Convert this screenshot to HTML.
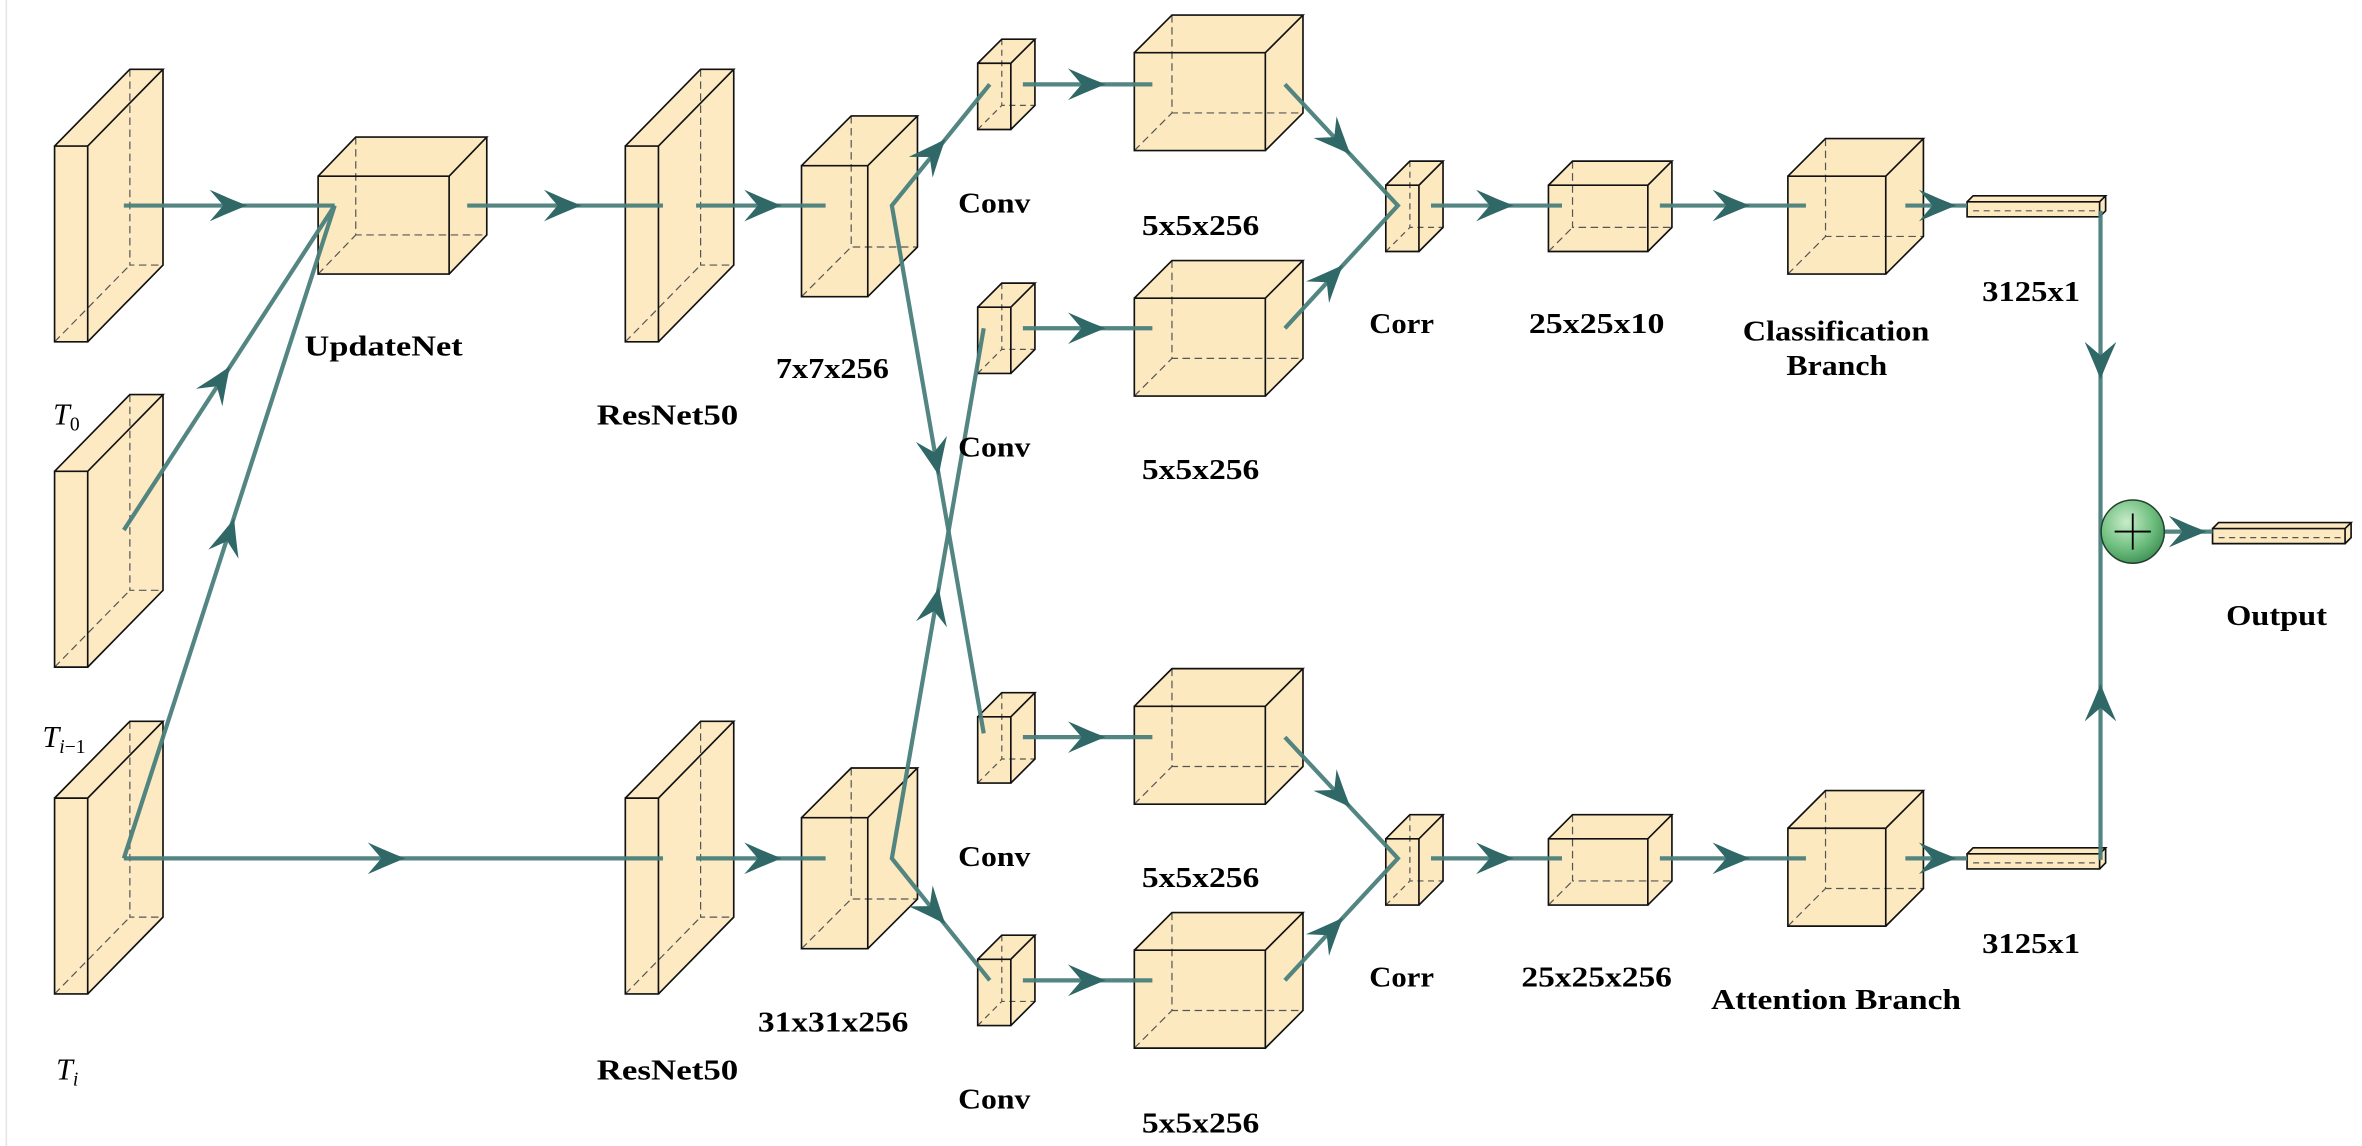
<!DOCTYPE html>
<html><head><meta charset="utf-8"><style>
html,body{margin:0;padding:0;background:#fff;}
svg{display:block;}
text{font-family:"Liberation Serif",serif;font-weight:bold;font-size:19px;fill:#000;}
.m{font-weight:normal;font-style:italic;font-size:20px;}
</style></head><body>
<svg width="2362" height="1146" viewBox="0 0 1568 761" xmlns="http://www.w3.org/2000/svg">
<defs>
<radialGradient id="gg" cx="40%" cy="35%" r="70%"><stop offset="0" stop-color="#c9ecc9"/><stop offset="0.6" stop-color="#6fbf80"/><stop offset="1" stop-color="#3e8f55"/></radialGradient>
<marker id="ah" markerUnits="userSpaceOnUse" markerWidth="34" markerHeight="26" refX="0" refY="0" viewBox="-30 -13 34 26" orient="auto" overflow="visible">
<path d="M1,0 C-7,-3 -16,-7 -24,-10.5 L-15,0 L-24,10.5 C-16,7 -7,3 1,0Z" fill="#2f6866"/>
</marker>
<g id="slab"><polygon points="0,0 50,-51 72,-51 72,79 22,130 0,130" fill="#fde9bf" fill-opacity="0.95"/><path d="M50,-51V79H72M0,130L50,79" fill="none" stroke="#555" stroke-width="0.8" stroke-dasharray="5,3"/><path d="M0,0H22V130H0ZM0,0L50,-51H72L22,0M72,-51V79L22,130" fill="none" stroke="#111" stroke-width="1.1"/></g>
<g id="upd"><polygon points="0,0 25,-26 112,-26 112,39 87,65 0,65" fill="#fde9bf"/><path d="M25,-26V39H112M0,65L25,39" fill="none" stroke="#555" stroke-width="0.8" stroke-dasharray="5,3"/><path d="M0,0H87V65H0ZM0,0L25,-26H112L87,0M112,-26V39L87,65" fill="none" stroke="#111" stroke-width="1.1"/></g>
<g id="c7"><polygon points="0,0 33,-33 77,-33 77,54 44,87 0,87" fill="#fde9bf"/><path d="M33,-33V54H77M0,87L33,54" fill="none" stroke="#555" stroke-width="0.8" stroke-dasharray="5,3"/><path d="M0,0H44V87H0ZM0,0L33,-33H77L44,0M77,-33V54L44,87" fill="none" stroke="#111" stroke-width="1.1"/></g>
<g id="cv"><polygon points="0,0 16,-16 38,-16 38,28 22,44 0,44" fill="#fde9bf"/><path d="M16,-16V28H38M0,44L16,28" fill="none" stroke="#555" stroke-width="0.8" stroke-dasharray="4,3"/><path d="M0,0H22V44H0ZM0,0L16,-16H38L22,0M38,-16V28L22,44" fill="none" stroke="#111" stroke-width="1.1"/></g>
<g id="big"><polygon points="0,0 25,-25 112,-25 112,40 87,65 0,65" fill="#fde9bf"/><path d="M25,-25V40H112M0,65L25,40" fill="none" stroke="#555" stroke-width="0.8" stroke-dasharray="5,3"/><path d="M0,0H87V65H0ZM0,0L25,-25H112L87,0M112,-25V40L87,65" fill="none" stroke="#111" stroke-width="1.1"/></g>
<g id="c25"><polygon points="0,0 16,-16 82,-16 82,28 66,44 0,44" fill="#fde9bf"/><path d="M16,-16V28H82M0,44L16,28" fill="none" stroke="#555" stroke-width="0.8" stroke-dasharray="5,3"/><path d="M0,0H66V44H0ZM0,0L16,-16H82L66,0M82,-16V28L66,44" fill="none" stroke="#111" stroke-width="1.1"/></g>
<g id="cls"><polygon points="0,0 25,-25 90,-25 90,40 65,65 0,65" fill="#fde9bf"/><path d="M25,-25V40H90M0,65L25,40" fill="none" stroke="#555" stroke-width="0.8" stroke-dasharray="5,3"/><path d="M0,0H65V65H0ZM0,0L25,-25H90L65,0M90,-25V40L65,65" fill="none" stroke="#111" stroke-width="1.1"/></g>
<g id="bar"><polygon points="0,0 4,-4 92,-4 92,6 88,10 0,10" fill="#fde9bf"/><path d="M4,6H88" fill="none" stroke="#555" stroke-width="0.8" stroke-dasharray="4,3"/><path d="M0,0H88V10H0ZM0,0L4,-4H92L88,0M92,-4V6L88,10" fill="none" stroke="#111" stroke-width="1.1"/></g>
</defs>
<line x1="4" y1="0" x2="4" y2="761" stroke="#e4e4e4" stroke-width="1"/>

<use href="#slab" x="36" y="97"/>
<use href="#slab" x="36" y="313"/>
<use href="#slab" x="36" y="530"/>
<use href="#upd" x="211" y="117"/>
<use href="#slab" x="415" y="97"/>
<use href="#slab" x="415" y="530"/>
<use href="#c7" x="532" y="110"/>
<use href="#c7" x="532" y="543"/>
<use href="#cv" x="649" y="42"/>
<use href="#cv" x="649" y="204"/>
<use href="#cv" x="649" y="476"/>
<use href="#cv" x="649" y="637"/>
<use href="#big" x="753" y="35"/>
<use href="#big" x="753" y="198"/>
<use href="#big" x="753" y="469"/>
<use href="#big" x="753" y="631"/>
<use href="#cv" x="920" y="123"/>
<use href="#cv" x="920" y="557"/>
<use href="#c25" x="1028" y="123"/>
<use href="#c25" x="1028" y="557"/>
<use href="#cls" x="1187" y="117"/>
<use href="#cls" x="1187" y="550"/>
<use href="#bar" x="1306" y="134"/>
<use href="#bar" x="1306" y="567"/>
<use href="#bar" x="1469" y="351"/>

<g stroke="#4a7f7c" stroke-width="2.8" fill="none" stroke-opacity="0.95">
<path d="M82,136.5H222M310,136.5H440M462,136.5H548"/>
<path d="M82,352L222,136.5M82,570L222,136.5"/>
<path d="M82,570H440M462,570H548"/>
<path d="M657,56L592,136.5L653,487"/>
<path d="M657,651L592,570L653,218"/>
<path d="M679,56H765M679,218H765M679,489.5H765M679,651H765"/>
<path d="M853,56L928,136.5L853,218M853,489.5L928,570L853,651"/>
<path d="M950,136.5H1037M950,570H1037M1102,136.5H1199M1102,570H1199M1265,136.5H1306M1265,570H1306"/>
<path d="M1394.6,140V571M1437,353H1469"/>
</g>
<g stroke="none" fill="none">
<path d="M153,136.5L163,136.5" marker-end="url(#ah)"/>
<path d="M375,136.5L385,136.5" marker-end="url(#ah)"/>
<path d="M508,136.5L518,136.5" marker-end="url(#ah)"/>
<path d="M146,253L152,244" marker-end="url(#ah)"/>
<path d="M152,355L155,345" marker-end="url(#ah)"/>
<path d="M258,570L268,570" marker-end="url(#ah)"/>
<path d="M508,570L518,570" marker-end="url(#ah)"/>
<path d="M620,101L627,93" marker-end="url(#ah)"/>
<path d="M621,305L623,315" marker-end="url(#ah)"/>
<path d="M620,605L627,613" marker-end="url(#ah)"/>
<path d="M621,401L623,391" marker-end="url(#ah)"/>
<path d="M723,56L733,56" marker-end="url(#ah)"/>
<path d="M723,218L733,218" marker-end="url(#ah)"/>
<path d="M723,489.5L733,489.5" marker-end="url(#ah)"/>
<path d="M723,651L733,651" marker-end="url(#ah)"/>
<path d="M889,94.5L896,102" marker-end="url(#ah)"/>
<path d="M884,184L891,176.5" marker-end="url(#ah)"/>
<path d="M889,528L896,535.5" marker-end="url(#ah)"/>
<path d="M884,617.5L891,610" marker-end="url(#ah)"/>
<path d="M994,136.5L1004,136.5" marker-end="url(#ah)"/>
<path d="M994,570L1004,570" marker-end="url(#ah)"/>
<path d="M1151,136.5L1161,136.5" marker-end="url(#ah)"/>
<path d="M1151,570L1161,570" marker-end="url(#ah)"/>
<path d="M1288,136.5L1298,136.5" marker-end="url(#ah)"/>
<path d="M1288,570L1298,570" marker-end="url(#ah)"/>
<path d="M1394.6,241L1394.6,251" marker-end="url(#ah)"/>
<path d="M1394.6,465L1394.6,455" marker-end="url(#ah)"/>
<path d="M1454,353L1464,353" marker-end="url(#ah)"/>
</g>
<circle cx="1416" cy="353" r="21" fill="url(#gg)" stroke="#24402c" stroke-width="1"/>
<path d="M1404,353H1428M1416,341V365" stroke="#000" stroke-width="1.2"/>

<text x="202" y="236" textLength="105" lengthAdjust="spacingAndGlyphs">UpdateNet</text>
<text x="396" y="282" textLength="94" lengthAdjust="spacingAndGlyphs">ResNet50</text>
<text x="396" y="717" textLength="94" lengthAdjust="spacingAndGlyphs">ResNet50</text>
<text x="515" y="251" textLength="75" lengthAdjust="spacingAndGlyphs">7x7x256</text>
<text x="503" y="685" textLength="100" lengthAdjust="spacingAndGlyphs">31x31x256</text>
<text x="636" y="141" textLength="48" lengthAdjust="spacingAndGlyphs">Conv</text>
<text x="636" y="303" textLength="48" lengthAdjust="spacingAndGlyphs">Conv</text>
<text x="636" y="575" textLength="48" lengthAdjust="spacingAndGlyphs">Conv</text>
<text x="636" y="736" textLength="48" lengthAdjust="spacingAndGlyphs">Conv</text>
<text x="758" y="156" textLength="78" lengthAdjust="spacingAndGlyphs">5x5x256</text>
<text x="758" y="318" textLength="78" lengthAdjust="spacingAndGlyphs">5x5x256</text>
<text x="758" y="589" textLength="78" lengthAdjust="spacingAndGlyphs">5x5x256</text>
<text x="758" y="752" textLength="78" lengthAdjust="spacingAndGlyphs">5x5x256</text>
<text x="909" y="221" textLength="43" lengthAdjust="spacingAndGlyphs">Corr</text>
<text x="909" y="655" textLength="43" lengthAdjust="spacingAndGlyphs">Corr</text>
<text x="1015" y="221" textLength="90" lengthAdjust="spacingAndGlyphs">25x25x10</text>
<text x="1010" y="655" textLength="100" lengthAdjust="spacingAndGlyphs">25x25x256</text>
<text x="1157" y="226" textLength="124" lengthAdjust="spacingAndGlyphs">Classification</text>
<text x="1186" y="249" textLength="67" lengthAdjust="spacingAndGlyphs">Branch</text>
<text x="1136" y="670" textLength="166" lengthAdjust="spacingAndGlyphs">Attention Branch</text>
<text x="1316" y="200" textLength="65" lengthAdjust="spacingAndGlyphs">3125x1</text>
<text x="1316" y="633" textLength="65" lengthAdjust="spacingAndGlyphs">3125x1</text>
<text x="1478" y="415" textLength="67" lengthAdjust="spacingAndGlyphs">Output</text>
<text class="m" x="35" y="282">T<tspan font-size="13" font-style="normal" dy="4">0</tspan></text>
<text class="m" x="28" y="496">T<tspan font-size="13" dy="4">i</tspan><tspan font-size="13" font-style="normal">−1</tspan></text>
<text class="m" x="37" y="717">T<tspan font-size="13" dy="4">i</tspan></text>
</svg>
</body></html>
